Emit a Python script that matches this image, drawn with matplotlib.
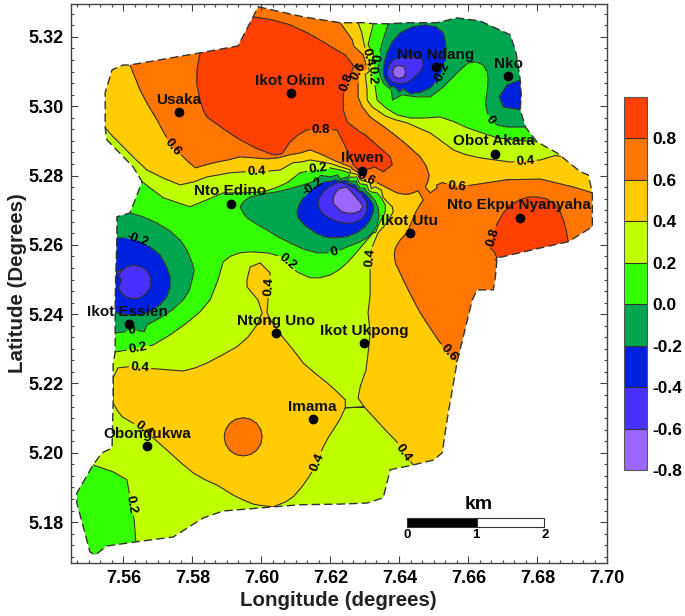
import numpy as np
import matplotlib
matplotlib.use('Agg')
import matplotlib.pyplot as plt
import matplotlib.tri as mtri
from matplotlib.patches import Polygon, Rectangle
from matplotlib.ticker import MultipleLocator

plt.rcParams['font.family'] = ['Liberation Sans', 'DejaVu Sans']
plt.rcParams['font.weight'] = 'bold'

# survey area outline, value read at each vertex
bnd_lon = [7.5990, 7.6121, 7.6228, 7.6257, 7.6280, 7.6301, 7.6324, 7.6344, 7.6367, 7.6422, 7.6509, 7.6567, 7.6634, 7.6721, 7.6738, 7.6750, 7.6753, 7.6750, 7.6765, 7.6799, 7.6857, 7.6924, 7.6947, 7.6959, 7.6959, 7.6889, 7.6808, 7.6683, 7.6678, 7.6672, 7.6625, 7.6611, 7.6567, 7.6538, 7.6524, 7.6498, 7.6440, 7.6373, 7.6353, 7.6306, 7.6228, 7.6112, 7.6034, 7.5889, 7.5831, 7.5744, 7.5636, 7.5552, 7.5518, 7.5503, 7.5465, 7.5465, 7.5512, 7.5538, 7.5567, 7.5570, 7.5570, 7.5570, 7.5576, 7.5576, 7.5576, 7.5576, 7.5578, 7.5581, 7.5581, 7.5619, 7.5654, 7.5628, 7.5552, 7.5547, 7.5547, 7.5567, 7.5599, 7.5619, 7.5822, 7.5932, 7.5976]
bnd_lat = [5.3287, 5.3258, 5.3241, 5.3241, 5.3241, 5.3241, 5.3238, 5.3238, 5.3238, 5.3241, 5.3241, 5.3255, 5.3246, 5.3206, 5.3154, 5.3076, 5.3033, 5.2990, 5.2940, 5.2897, 5.2865, 5.2811, 5.2802, 5.2750, 5.2652, 5.2609, 5.2591, 5.2562, 5.2508, 5.2470, 5.2470, 5.2441, 5.2262, 5.2095, 5.2000, 5.1979, 5.1965, 5.1951, 5.1870, 5.1855, 5.1852, 5.1850, 5.1844, 5.1832, 5.1812, 5.1757, 5.1743, 5.1731, 5.1705, 5.1714, 5.1855, 5.1884, 5.1965, 5.2000, 5.2014, 5.2144, 5.2216, 5.2254, 5.2291, 5.2346, 5.2404, 5.2441, 5.2522, 5.2620, 5.2681, 5.2692, 5.2782, 5.2825, 5.2903, 5.2938, 5.3039, 5.3105, 5.3119, 5.3119, 5.3154, 5.3174, 5.3258]
bnd_val = [0.7, 0.7, 0.6, 0.5, 0.4, 0.3, 0.2, 0.1, 0.0, -0.1, -0.1, -0.1, -0.1, -0.1, -0.1, -0.2, -0.3, -0.2, 0.0, 0.2, 0.38, 0.5, 0.55, 0.6, 0.7, 0.8, 0.9, 0.8, 0.7, 0.7, 0.7, 0.7, 0.6, 0.5, 0.5, 0.5, 0.4, 0.3, 0.3, 0.3, 0.3, 0.3, 0.4, 0.3, 0.3, 0.3, 0.2, 0.1, 0.1, 0.1, 0.1, 0.1, 0.2, 0.3, 0.3, 0.4, 0.4, 0.3, 0.2, 0.0, -0.2, -0.3, -0.4, -0.2, -0.1, 0.0, 0.2, 0.3, 0.3, 0.4, 0.5, 0.5, 0.5, 0.6, 0.8, 0.9, 0.8]

# points read along each isoline
line_08 = [(7.5976, 5.3258), (7.6031, 5.3249), (7.6083, 5.3235), (7.6132, 5.3212), (7.6179, 5.3186), (7.6211, 5.3166), (7.6243, 5.3148), (7.6295, 5.3119), (7.6248, 5.3070), (7.6237, 5.3033), (7.6237, 5.2990), (7.6248, 5.2955), (7.6324, 5.2897), (7.6373, 5.2854), (7.6379, 5.2831), (7.6353, 5.2811), (7.6286, 5.2811), (7.6266, 5.2831), (7.6248, 5.2874), (7.6219, 5.2932), (7.6176, 5.2932), (7.6132, 5.2932), (7.6106, 5.2917), (7.6083, 5.2897), (7.6071, 5.2880), (7.6060, 5.2863), (7.6042, 5.2860), (7.6025, 5.2863), (7.5982, 5.2880), (7.5938, 5.2903), (7.5894, 5.2932), (7.5842, 5.2969), (7.5831, 5.2990), (7.5822, 5.3018), (7.5813, 5.3062), (7.5813, 5.3105),
           (7.6678, 5.2557), (7.6663, 5.2591), (7.6672, 5.2623), (7.6683, 5.2661), (7.6701, 5.2692), (7.6721, 5.2715), (7.6750, 5.2730), (7.6773, 5.2738), (7.6799, 5.2738), (7.6825, 5.2733), (7.6846, 5.2721), (7.6863, 5.2701), (7.6875, 5.2672), (7.6883, 5.2643)]
line_06 = [(7.5634, 5.3082), (7.5648, 5.3047), (7.5671, 5.3004), (7.5697, 5.2961), (7.5721, 5.2917), (7.5744, 5.2883), (7.5776, 5.2851), (7.5808, 5.2822), (7.5839, 5.2831), (7.5871, 5.2839), (7.5903, 5.2845), (7.5938, 5.2854), (7.5979, 5.2851), (7.6016, 5.2848), (7.6048, 5.2851), (7.6083, 5.2860), (7.6112, 5.2865), (7.6141, 5.2874), (7.6170, 5.2863), (7.6208, 5.2845), (7.6242, 5.2831), (7.6277, 5.2811), (7.6324, 5.2785), (7.6359, 5.2767), (7.6393, 5.2750), (7.6411, 5.2746), (7.6431, 5.2747), (7.6454, 5.2756), (7.6475, 5.2767), (7.6483, 5.2785), (7.6486, 5.2802), (7.6477, 5.2828), (7.6460, 5.2854), (7.6428, 5.2883), (7.6393, 5.2912), (7.6356, 5.2940), (7.6315, 5.2969), (7.6292, 5.2998), (7.6280, 5.3027), (7.6280, 5.3067), (7.6301, 5.3128), (7.6295, 5.3148), (7.6263, 5.3192),
           (7.6904, 5.2767), (7.6808, 5.2790), (7.6712, 5.2788), (7.6614, 5.2773), (7.6567, 5.2767), (7.6509, 5.2764), (7.6489, 5.2750), (7.6469, 5.2730), (7.6457, 5.2712), (7.6446, 5.2692), (7.6434, 5.2663), (7.6422, 5.2635), (7.6402, 5.2614), (7.6388, 5.2591), (7.6385, 5.2571), (7.6388, 5.2548), (7.6399, 5.2525), (7.6411, 5.2499), (7.6434, 5.2453), (7.6460, 5.2404), (7.6489, 5.2360), (7.6518, 5.2317),
           (7.6002, 5.2046), (7.5998, 5.2067), (7.5986, 5.2085), (7.5968, 5.2097), (7.5947, 5.2101), (7.5926, 5.2097), (7.5908, 5.2085), (7.5896, 5.2067), (7.5892, 5.2046), (7.5896, 5.2025), (7.5908, 5.2007), (7.5926, 5.1995), (7.5947, 5.1991), (7.5968, 5.1995), (7.5986, 5.2007), (7.5998, 5.2025)]
line_04 = [(7.6298, 5.3177), (7.6303, 5.3134), (7.6301, 5.3091), (7.6306, 5.3047), (7.6321, 5.2998), (7.6359, 5.2972), (7.6388, 5.2961), (7.6422, 5.2952), (7.6454, 5.2938), (7.6489, 5.2923), (7.6521, 5.2900), (7.6556, 5.2874), (7.6593, 5.2860), (7.6634, 5.2851), (7.6721, 5.2839), (7.6808, 5.2845),
           (7.5570, 5.2912), (7.5599, 5.2883), (7.5634, 5.2848), (7.5668, 5.2816), (7.5715, 5.2793), (7.5764, 5.2773), (7.5805, 5.2782), (7.5842, 5.2796), (7.5877, 5.2802), (7.5909, 5.2808), (7.5953, 5.2811), (7.5987, 5.2811), (7.6019, 5.2813), (7.6054, 5.2816), (7.6092, 5.2837), (7.6115, 5.2839), (7.6141, 5.2845), (7.6176, 5.2839), (7.6202, 5.2834), (7.6228, 5.2825), (7.6257, 5.2808), (7.6286, 5.2788), (7.6318, 5.2762), (7.6353, 5.2736), (7.6379, 5.2710), (7.6382, 5.2695), (7.6373, 5.2681), (7.6359, 5.2658), (7.6338, 5.2635), (7.6321, 5.2594), (7.6315, 5.2562), (7.6315, 5.2508), (7.6315, 5.2456), (7.6309, 5.2404), (7.6315, 5.2346), (7.6309, 5.2288), (7.6303, 5.2239), (7.6286, 5.2190), (7.6280, 5.2158), (7.6298, 5.2132), (7.6324, 5.2104), (7.6359, 5.2066), (7.6393, 5.2031), (7.6411, 5.2000),
           (7.5584, 5.2245), (7.5613, 5.2248), (7.5648, 5.2245), (7.5697, 5.2242), (7.5773, 5.2236), (7.5808, 5.2245), (7.5842, 5.2259), (7.5886, 5.2282), (7.5929, 5.2306), (7.5961, 5.2334), (7.5987, 5.2369), (7.6002, 5.2404), (7.5990, 5.2441), (7.5958, 5.2479), (7.5958, 5.2499), (7.5967, 5.2536), (7.5996, 5.2548), (7.6025, 5.2519), (7.6019, 5.2441), (7.6016, 5.2404), (7.6031, 5.2375), (7.6063, 5.2332), (7.6092, 5.2297), (7.6121, 5.2259), (7.6155, 5.2230), (7.6190, 5.2202), (7.6216, 5.2179), (7.6243, 5.2153), (7.6243, 5.2130), (7.6228, 5.2098), (7.6208, 5.2066), (7.6193, 5.2043), (7.6179, 5.2017), (7.6161, 5.1974), (7.6150, 5.1950), (7.6135, 5.1927), (7.6115, 5.1899), (7.6092, 5.1873), (7.6069, 5.1858), (7.6005, 5.1847), (7.5976, 5.1852), (7.5947, 5.1864), (7.5918, 5.1878), (7.5894, 5.1893), (7.5871, 5.1907), (7.5837, 5.1922), (7.5802, 5.1942), (7.5767, 5.1971), (7.5735, 5.2000), (7.5709, 5.2023), (7.5686, 5.2043), (7.5648, 5.2075), (7.5622, 5.2089), (7.5596, 5.2104), (7.5581, 5.2124)]
line_02 = [(7.6309, 5.3177), (7.6321, 5.3091), (7.6335, 5.3018), (7.6361, 5.2995), (7.6393, 5.2975), (7.6431, 5.2966), (7.6469, 5.2966), (7.6518, 5.2969), (7.6559, 5.2955), (7.6596, 5.2938), (7.6640, 5.2923), (7.6683, 5.2909), (7.6736, 5.2903),
           (7.5715, 5.2736), (7.5750, 5.2724), (7.5793, 5.2710), (7.5842, 5.2730), (7.5889, 5.2750), (7.5953, 5.2750), (7.6005, 5.2753), (7.6040, 5.2764), (7.6074, 5.2779), (7.6112, 5.2808), (7.6164, 5.2819), (7.6199, 5.2822), (7.6228, 5.2816), (7.6254, 5.2808), (7.6277, 5.2796), (7.6306, 5.2773), (7.6335, 5.2750), (7.6347, 5.2736), (7.6359, 5.2715), (7.6359, 5.2695), (7.6350, 5.2678), (7.6338, 5.2655), (7.6324, 5.2635), (7.6306, 5.2614), (7.6286, 5.2591), (7.6269, 5.2571), (7.6248, 5.2548), (7.6225, 5.2528), (7.6199, 5.2513), (7.6170, 5.2505), (7.6141, 5.2505), (7.6103, 5.2522), (7.6083, 5.2542), (7.6063, 5.2562), (7.6040, 5.2571), (7.6016, 5.2577), (7.5967, 5.2580), (7.5938, 5.2577), (7.5912, 5.2568), (7.5889, 5.2551), (7.5874, 5.2499), (7.5851, 5.2441), (7.5822, 5.2407), (7.5784, 5.2375), (7.5735, 5.2340), (7.5686, 5.2311), (7.5634, 5.2300),
           (7.5570, 5.1945), (7.5610, 5.1922), (7.5619, 5.1873), (7.5631, 5.1806)]
line_00 = [(7.6359, 5.3212), (7.6350, 5.3183), (7.6341, 5.3148), (7.6338, 5.3114), (7.6344, 5.3088), (7.6353, 5.3067), (7.6376, 5.3047), (7.6408, 5.3033), (7.6448, 5.3027), (7.6489, 5.3027), (7.6524, 5.3053), (7.6556, 5.3085), (7.6579, 5.3108), (7.6599, 5.3125), (7.6622, 5.3128), (7.6643, 5.3119), (7.6654, 5.3099), (7.6657, 5.3076), (7.6654, 5.3041), (7.6649, 5.3010), (7.6654, 5.2984), (7.6663, 5.2961), (7.6683, 5.2946), (7.6712, 5.2940), (7.6738, 5.2940),
           (7.5938, 5.2710), (7.5947, 5.2692), (7.5958, 5.2678), (7.5984, 5.2661), (7.6016, 5.2643), (7.6048, 5.2623), (7.6083, 5.2606), (7.6121, 5.2588), (7.6161, 5.2577), (7.6205, 5.2577), (7.6228, 5.2585), (7.6248, 5.2594), (7.6280, 5.2606), (7.6306, 5.2620), (7.6324, 5.2637), (7.6335, 5.2658), (7.6341, 5.2684), (7.6338, 5.2707), (7.6330, 5.2727), (7.6315, 5.2744), (7.6286, 5.2764), (7.6257, 5.2782), (7.6228, 5.2790), (7.6199, 5.2796), (7.6158, 5.2785), (7.6121, 5.2773), (7.6083, 5.2762), (7.6045, 5.2753), (7.6005, 5.2747), (7.5967, 5.2738), (7.5950, 5.2727),
           (7.5657, 5.2681), (7.5697, 5.2663), (7.5735, 5.2640), (7.5764, 5.2614), (7.5784, 5.2585), (7.5799, 5.2548), (7.5805, 5.2525), (7.5799, 5.2499), (7.5790, 5.2467), (7.5773, 5.2441), (7.5741, 5.2412), (7.5706, 5.2389), (7.5668, 5.2369), (7.5628, 5.2355), (7.5604, 5.2349)]
line_m02 = [(7.6475, 5.3235), (7.6437, 5.3229), (7.6402, 5.3212), (7.6379, 5.3186), (7.6364, 5.3154), (7.6356, 5.3128), (7.6353, 5.3105), (7.6359, 5.3076), (7.6373, 5.3056), (7.6399, 5.3041), (7.6431, 5.3036), (7.6463, 5.3041), (7.6489, 5.3053), (7.6509, 5.3073), (7.6524, 5.3099), (7.6533, 5.3131), (7.6535, 5.3163), (7.6533, 5.3189), (7.6527, 5.3212), (7.6506, 5.3229),
            (7.6712, 5.3062), (7.6689, 5.3027), (7.6701, 5.2998),
            (7.6214, 5.2788), (7.6179, 5.2782), (7.6150, 5.2767), (7.6127, 5.2744), (7.6112, 5.2721), (7.6103, 5.2698), (7.6106, 5.2678), (7.6127, 5.2655), (7.6156, 5.2635), (7.6182, 5.2623), (7.6208, 5.2620), (7.6245, 5.2623), (7.6277, 5.2635), (7.6301, 5.2652), (7.6315, 5.2672), (7.6324, 5.2695), (7.6324, 5.2715), (7.6312, 5.2736), (7.6295, 5.2753), (7.6272, 5.2773), (7.6248, 5.2785),
            (7.5610, 5.2620), (7.5639, 5.2614), (7.5674, 5.2597), (7.5706, 5.2571), (7.5723, 5.2542), (7.5735, 5.2508), (7.5735, 5.2476), (7.5726, 5.2450), (7.5706, 5.2427), (7.5677, 5.2407), (7.5648, 5.2398), (7.5619, 5.2398), (7.5596, 5.2401)]
line_m04 = [(7.6460, 5.3140), (7.6440, 5.3144), (7.6422, 5.3143), (7.6402, 5.3140), (7.6382, 5.3134), (7.6370, 5.3119), (7.6364, 5.3099), (7.6367, 5.3082), (7.6379, 5.3070), (7.6396, 5.3065), (7.6416, 5.3067), (7.6434, 5.3076), (7.6451, 5.3091), (7.6463, 5.3105), (7.6469, 5.3119), (7.6467, 5.3134),
            (7.6219, 5.2779), (7.6199, 5.2770), (7.6179, 5.2753), (7.6167, 5.2736), (7.6164, 5.2715), (7.6173, 5.2695), (7.6190, 5.2681), (7.6214, 5.2669), (7.6237, 5.2663), (7.6263, 5.2663), (7.6286, 5.2672), (7.6301, 5.2687), (7.6306, 5.2707), (7.6303, 5.2727), (7.6292, 5.2744), (7.6272, 5.2762), (7.6251, 5.2773), (7.6234, 5.2779),
            (7.5680, 5.2493), (7.5676, 5.2474), (7.5665, 5.2459), (7.5649, 5.2448), (7.5631, 5.2444), (7.5612, 5.2448), (7.5596, 5.2459), (7.5585, 5.2474), (7.5585, 5.2512), (7.5596, 5.2528), (7.5612, 5.2538), (7.5631, 5.2542), (7.5649, 5.2538), (7.5665, 5.2528), (7.5676, 5.2512)]
line_m06 = [(7.6418, 5.3099), (7.6414, 5.3114), (7.6399, 5.3118), (7.6385, 5.3114), (7.6380, 5.3099), (7.6385, 5.3085), (7.6399, 5.3080), (7.6414, 5.3085),
            (7.6243, 5.2767), (7.6225, 5.2762), (7.6214, 5.2750), (7.6208, 5.2736), (7.6208, 5.2721), (7.6219, 5.2707), (7.6234, 5.2695), (7.6251, 5.2691), (7.6272, 5.2692), (7.6286, 5.2698), (7.6292, 5.2707), (7.6292, 5.2715), (7.6286, 5.2724), (7.6274, 5.2738), (7.6263, 5.2750), (7.6251, 5.2764)]

# values read inside the bands, between isolines
band_09 = [(7.5895, 5.3076), (7.5996, 5.3163), (7.6083, 5.3047), (7.5967, 5.2990), (7.6170, 5.3062), (7.6156, 5.2975), (7.6025, 5.2917), (7.6330, 5.2845), (7.6272, 5.2903), (7.6808, 5.2650)]
band_07 = [(7.5706, 5.3047), (7.5793, 5.2903), (7.5938, 5.2880), (7.6112, 5.2889), (7.6257, 5.3018), (7.6330, 5.2932), (7.6417, 5.2816), (7.6170, 5.3220), (7.6605, 5.2643), (7.6489, 5.2499), (7.6895, 5.2715), (7.6550, 5.2400), (7.5947, 5.2046)]
band_05 = [(7.5605, 5.3018), (7.5706, 5.2874), (7.5909, 5.2831), (7.6280, 5.3186), (7.6292, 5.3018), (7.6460, 5.2903), (7.6533, 5.2845), (7.6692, 5.2816), (7.6402, 5.2687), (7.6359, 5.2557), (7.6359, 5.2355), (7.6402, 5.2153), (7.6460, 5.2037), (7.5764, 5.2095), (7.5967, 5.2210), (7.6083, 5.2153), (7.5982, 5.1922), (7.5648, 5.2167), (7.6112, 5.2008), (7.5990, 5.2513)]
band_03 = [(7.6228, 5.2326), (7.6228, 5.2037), (7.5677, 5.1922), (7.5677, 5.2268), (7.5909, 5.2441), (7.6170, 5.2441), (7.5851, 5.2759), (7.6576, 5.2917), (7.6750, 5.2874), (7.6263, 5.2153), (7.6242, 5.2239), (7.6257, 5.2470), (7.6272, 5.2066), (7.6330, 5.2008), (7.6257, 5.1951), (7.6112, 5.2355), (7.6199, 5.1907), (7.5793, 5.2311), (7.5880, 5.2355)]
band_01 = [(7.5822, 5.2643), (7.5851, 5.2528), (7.6025, 5.2614), (7.6228, 5.2551), (7.6518, 5.3004), (7.6590, 5.3047), (7.6605, 5.2975), (7.5532, 5.1835), (7.5576, 5.1893)]
band_m01 = [(7.6054, 5.2701), (7.5982, 5.2710), (7.5619, 5.2658), (7.5764, 5.2528), (7.5648, 5.2369), (7.6605, 5.3191), (7.6591, 5.3148), (7.6692, 5.3134), (7.6692, 5.2975)]
band_m03 = [(7.6446, 5.3191), (7.6504, 5.3148), (7.6489, 5.3091), (7.6388, 5.3168), (7.6721, 5.3027), (7.6141, 5.2701), (7.6199, 5.2649), (7.5619, 5.2571), (7.5692, 5.2484), (7.5619, 5.2418)]
band_m05 = [(7.6431, 5.3119), (7.6185, 5.2715), (7.6242, 5.2678), (7.5631, 5.2493)]
band_m07 = [(7.6399, 5.3099), (7.6245, 5.2730)]

levels = [-0.8, -0.6, -0.4, -0.2, 0.0, 0.2, 0.4, 0.6, 0.8, 1.0]
colors = ['#9966FF', '#4A30FF', '#0020E0', '#00A550', '#33FF00', '#BFFF00', '#FFCC00', '#FF7700', '#FF4000']

# sample sites
site_names = ['Usaka', 'Ikot Okim', 'Nto Ndang', 'Nko', 'Obot Akara', 'Ikwen', 'Nto Edino', 'Nto Ekpu Nyanyaha', 'Ikot Utu', 'Ikot Essien', 'Ntong Uno', 'Ikot Ukpong', 'Imama', 'Obongukwa']
site_lon = [7.5761, 7.6086, 7.6506, 7.6715, 7.6678, 7.6292, 7.5912, 7.6750, 7.6431, 7.5616, 7.6042, 7.6298, 7.6150, 7.5668]
site_lat = [5.2984, 5.3039, 5.3114, 5.3088, 5.2863, 5.2813, 5.2718, 5.2678, 5.2635, 5.2372, 5.2346, 5.2317, 5.2098, 5.2020]
name_lon = [7.5761, 7.6083, 7.6504, 7.6715, 7.6675, 7.6292, 7.5909, 7.6747, 7.6428, 7.5613, 7.6042, 7.6298, 7.6147, 7.5668]
name_lat = [5.3018, 5.3073, 5.3148, 5.3122, 5.2900, 5.2851, 5.2756, 5.2715, 5.2669, 5.2407, 5.2381, 5.2352, 5.2132, 5.2054]

# label positions on the isolines
label_spots = [(7.5744, 5.2883), (7.5987, 5.2811), (7.6173, 5.2932), (7.6164, 5.2819), (7.6150, 5.2767), (7.6211, 5.2577), (7.6071, 5.2548), (7.6016, 5.2479), (7.5639, 5.2614), (7.5625, 5.2349), (7.5642, 5.2303), (7.5648, 5.2245), (7.6161, 5.1974), (7.5619, 5.1850), (7.6318, 5.2562), (7.6541, 5.2288), (7.6411, 5.2000), (7.6567, 5.2767), (7.6672, 5.2623), (7.6765, 5.2845), (7.6663, 5.2961), (7.6306, 5.2796), (7.6248, 5.3070), (7.6283, 5.3099), (7.6306, 5.3140), (7.6321, 5.3091), (7.6338, 5.3140), (7.6504, 5.3105), (7.5657, 5.2066)]

samples = {}
for x, y, v in zip(bnd_lon, bnd_lat, bnd_val):
    samples[(x, y)] = v
for pts, v in [(line_08, 0.8), (line_06, 0.6), (line_04, 0.4), (line_02, 0.2), (line_00, 0.0), (line_m02, -0.2), (line_m04, -0.4), (line_m06, -0.6),
               (band_09, 0.9), (band_07, 0.7), (band_05, 0.5), (band_03, 0.3), (band_01, 0.1), (band_m01, -0.1), (band_m03, -0.3), (band_m05, -0.5), (band_m07, -0.7)]:
    for p in pts:
        samples.setdefault(p, v)
lon = [p[0] for p in samples]
lat = [p[1] for p in samples]
val = list(samples.values())


def open_flat_triangles(lon, lat, val):
    # triangles with all three corners on one isoline cut chords into it,
    # so give each one a centre point on the side its long edge faces
    for k in range(5):
        t = mtri.Triangulation(lon, lat)
        z = np.array(val)
        x = np.array(lon)
        y = np.array(lat)
        extra = []
        for i, tr in enumerate(t.triangles):
            zt = z[tr]
            if zt.max() != zt.min():
                continue
            edges = [np.hypot(x[tr[j]] - x[tr[(j + 1) % 3]], y[tr[j]] - y[tr[(j + 1) % 3]]) for j in range(3)]
            n = t.neighbors[i][int(np.argmax(edges))]
            if n < 0:
                continue
            zn = z[t.triangles[n]]
            other = zn[zn != zt[0]]
            if len(other):
                extra.append((x[tr].mean(), y[tr].mean(), zt[0] + 0.03 * np.sign(other[0] - zt[0])))
        if not extra:
            break
        for e in extra:
            lon.append(e[0])
            lat.append(e[1])
            val.append(e[2])
    return lon, lat, val


lon, lat, val = open_flat_triangles(lon, lat, val)

fig = plt.figure(figsize=(6.85, 6.16), dpi=100)
ax = fig.add_axes([71 / 685, (616 - 563) / 616, 535.5 / 685, 559 / 616])

tri = mtri.Triangulation(lon, lat)
cf = ax.tricontourf(tri, val, levels=levels, colors=colors)
cs = ax.tricontour(tri, val, levels=levels[:-1], colors='#333333', linewidths=0.8, linestyles='solid')

outline = Polygon(np.column_stack([bnd_lon, bnd_lat]), closed=True, transform=ax.transData, fill=False, edgecolor='none')
ax.add_patch(outline)
cf.set_clip_path(outline)
cs.set_clip_path(outline)

ax.set_xlim(7.5448, 7.7)
ax.set_ylim(5.1682, 5.3295)

labs = ax.clabel(cs, manual=label_spots, fmt=lambda v: f'{v:.1f}'.replace('0.0', '0'), fontsize=9.5, inline=True, inline_spacing=2)
for t in labs:
    t.set_fontweight('bold')
    t.set_color('black')

ax.plot(bnd_lon + bnd_lon[:1], bnd_lat + bnd_lat[:1], color='#333333', lw=1, ls=(0, (6, 3)))

ax.plot(site_lon, site_lat, 'o', color='black', ms=6, ls='none')
for n, x, y in zip(site_names, name_lon, name_lat):
    ax.text(x, y, n, fontsize=11, fontweight='bold', ha='center', va='center', color='#111111')

# scale bar
ax.add_patch(Rectangle((7.6422, 5.1786), 0.0202, 0.0026, fc='black', ec='#333333', lw=0.8))
ax.add_patch(Rectangle((7.6624, 5.1786), 0.0196, 0.0026, fc='white', ec='#333333', lw=0.8))
ax.text(7.6630, 5.1850, 'km', fontsize=14, fontweight='bold', ha='center', va='center')
for x, s in zip([7.6422, 7.6620, 7.6822], ['0', '1', '2']):
    ax.text(x, 5.1763, s, fontsize=9.5, fontweight='bold', ha='center', va='center')

ax.xaxis.set_major_locator(MultipleLocator(0.02))
ax.xaxis.set_minor_locator(MultipleLocator(0.02 / 6))
ax.yaxis.set_major_locator(MultipleLocator(0.02))
ax.yaxis.set_minor_locator(MultipleLocator(0.02 / 6))
ax.xaxis.set_major_formatter(lambda v, p: f'{v:.2f}')
ax.yaxis.set_major_formatter(lambda v, p: f'{v:.2f}')
ax.tick_params(which='major', direction='in', length=5, width=0.8, top=True, right=True, labelsize=13, color='#444444', pad=5)
ax.tick_params(which='minor', direction='in', length=2.5, width=0.8, top=True, right=True, color='#444444')
for s in ax.spines.values():
    s.set_color('#444444')
    s.set_linewidth(1)
ax.set_xlabel('Longitude (degrees)', fontsize=14.8, fontweight='bold', labelpad=3, color='#222222')
ax.set_ylabel('Latitude (Degrees)', fontsize=14.8, fontweight='bold', labelpad=1, color='#222222')

cax = fig.add_axes([624 / 685, (616 - 470) / 616, 23 / 685, 373 / 616])
cb = fig.colorbar(cf, cax=cax, ticks=levels[:-1], drawedges=True)
cb.ax.set_yticklabels([f'{v:.1f}' for v in levels[:-1]])
cb.ax.tick_params(length=0, labelsize=12.5, pad=4)
cb.outline.set_edgecolor('#555555')
cb.dividers.set_color('#333333')
cb.dividers.set_linewidth(0.8)

fig.savefig('out.png', dpi=100)
